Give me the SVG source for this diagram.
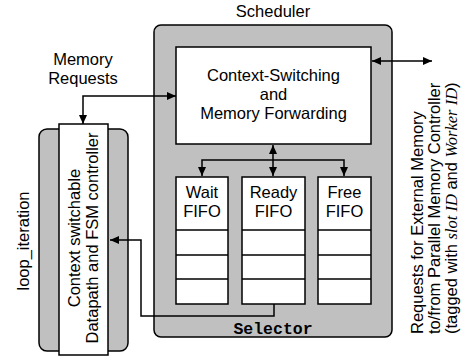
<svg xmlns="http://www.w3.org/2000/svg" width="468" height="360" viewBox="0 0 468 360">
<style>
  text { font-family: "Liberation Sans", Arial, sans-serif; font-size: 16.5px; fill: #000; }
  .mono { font-family: "Liberation Mono", "Courier New", monospace; font-weight: bold; font-size: 16.5px; }
  .it { font-family: "Liberation Serif", "Times New Roman", serif; font-style: italic; }
  .gray { fill: #c0c0c0; stroke: #000; stroke-width: 1.5; }
  .box { fill: #fff; stroke: #000; stroke-width: 1.5; }
  .wire { fill: none; stroke: #000; stroke-width: 1.5; }
</style>
<defs>
  <marker id="ah" markerUnits="userSpaceOnUse" markerWidth="9" markerHeight="8" viewBox="0 0 9 8" refX="9" refY="4" orient="auto-start-reverse">
    <path d="M0,0 L9,4 L0,8 z" fill="#000"/>
  </marker>
</defs>

<g id="scheduler">
  <rect class="gray" x="154" y="25" width="238" height="312" rx="7"/>
  <text x="273" y="17" text-anchor="middle">Scheduler</text>
  <text class="mono" x="273" y="334" text-anchor="middle">Selector</text>
</g>

<g id="context-switching">
  <rect class="box" x="176" y="47" width="195" height="97"/>
  <text x="273.5" y="81" text-anchor="middle">Context-Switching</text>
  <text x="273.5" y="100" text-anchor="middle">and</text>
  <text x="273.5" y="119" text-anchor="middle">Memory Forwarding</text>
</g>

<g id="wait-fifo">
  <rect class="box" x="176" y="177" width="52" height="127"/>
  <path class="wire" d="M176,230 H228 M176,255 H228 M176,279 H228"/>
  <text x="202" y="198" text-anchor="middle">Wait</text>
  <text x="202" y="217" text-anchor="middle">FIFO</text>
</g>

<g id="ready-fifo">
  <rect class="box" x="242" y="177" width="63" height="127"/>
  <path class="wire" d="M242,230 H305 M242,255 H305 M242,279 H305"/>
  <text x="273.5" y="198" text-anchor="middle">Ready</text>
  <text x="273.5" y="217" text-anchor="middle">FIFO</text>
</g>

<g id="free-fifo">
  <rect class="box" x="318" y="177" width="53" height="127"/>
  <path class="wire" d="M318,230 H371 M318,255 H371 M318,279 H371"/>
  <text x="344.5" y="198" text-anchor="middle">Free</text>
  <text x="344.5" y="217" text-anchor="middle">FIFO</text>
</g>

<g id="loop-iteration">
  <rect class="gray" x="39" y="129" width="89" height="222" rx="8"/>
  <rect class="box" x="59" y="124" width="49" height="231"/>
  <text transform="translate(80,238) rotate(-90)" text-anchor="middle">Context switchable</text>
  <text transform="translate(98,238) rotate(-90)" text-anchor="middle">Datapath and FSM controller</text>
  <text transform="translate(29,241) rotate(-90)" text-anchor="middle">loop_iteration</text>
</g>

<g id="memory-requests-label">
  <text x="83" y="65" text-anchor="middle">Memory</text>
  <text x="83" y="84" text-anchor="middle">Requests</text>
</g>

<g id="external-memory-label">
  <text transform="translate(423,334) rotate(-90)">Requests for External Memory</text>
  <text transform="translate(440,334) rotate(-90)">to/from Parallel Memory Controller</text>
  <text transform="translate(457,334) rotate(-90)">(tagged with <tspan class="it">slot ID</tspan> and <tspan class="it">Worker ID</tspan>)</text>
</g>

<g id="connectors">
  <path class="wire" d="M176,96 H83 V124" marker-start="url(#ah)" marker-end="url(#ah)"/>
  <path class="wire" d="M372,61 H432" marker-start="url(#ah)" marker-end="url(#ah)"/>
  <path class="wire" d="M273,145 V176" marker-start="url(#ah)" marker-end="url(#ah)"/>
  <path class="wire" d="M202,176 V160 H344 V176" marker-start="url(#ah)" marker-end="url(#ah)"/>
  <path class="wire" d="M274,304 V316 H141 V240 H110" marker-end="url(#ah)"/>
</g>
</svg>
